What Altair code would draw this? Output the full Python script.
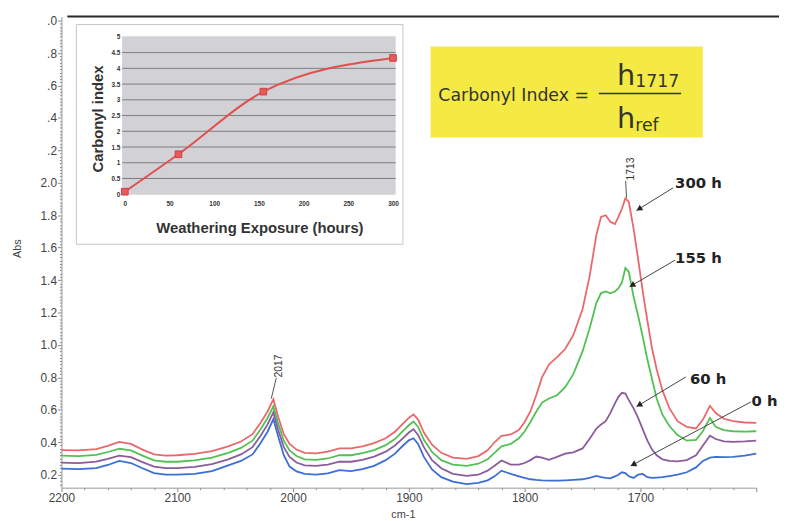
import math
import altair as alt
import pandas as pd

# ---------------- main FTIR spectra ----------------
wavenumber = [2200, 2185, 2170, 2160, 2150, 2140, 2130, 2120, 2110, 2100, 2085, 2070, 2056, 2045, 2035,
              2028, 2022, 2017, 2013, 2008, 2003, 1997, 1990, 1980, 1970, 1960, 1950, 1940, 1930, 1920,
              1912, 1905, 1900, 1896, 1892, 1887, 1880, 1872, 1862, 1850, 1840, 1832, 1826, 1820, 1812,
              1805, 1800, 1795, 1790, 1785, 1779, 1772, 1765, 1758, 1750, 1744, 1738, 1734, 1730, 1726,
              1722, 1719, 1716, 1713, 1710, 1706, 1702, 1698, 1694, 1690, 1686, 1681, 1675, 1668, 1660,
              1652, 1646, 1640, 1635, 1628, 1620, 1610, 1600]

abs_300h = [0.352, 0.350, 0.358, 0.378, 0.402, 0.390, 0.355, 0.325, 0.318, 0.320, 0.328, 0.345, 0.375, 0.405, 0.450,
            0.520, 0.590, 0.665, 0.560, 0.450, 0.390, 0.355, 0.335, 0.332, 0.342, 0.362, 0.362, 0.375, 0.395, 0.425,
            0.465, 0.515, 0.550, 0.572, 0.540, 0.460, 0.385, 0.335, 0.305, 0.298, 0.315, 0.350, 0.400, 0.440, 0.448,
            0.475, 0.525, 0.590, 0.690, 0.800, 0.880, 0.925, 0.975, 1.060, 1.220, 1.420, 1.680, 1.790, 1.800, 1.760,
            1.745, 1.790, 1.840, 1.905, 1.880, 1.720, 1.530, 1.330, 1.150, 0.980, 0.850, 0.720, 0.610, 0.530, 0.495,
            0.485, 0.540, 0.625, 0.580, 0.545, 0.530, 0.522, 0.520]

abs_155h = [0.318, 0.315, 0.322, 0.340, 0.360, 0.350, 0.318, 0.288, 0.280, 0.280, 0.288, 0.305, 0.335, 0.365, 0.410,
            0.480, 0.550, 0.622, 0.520, 0.410, 0.350, 0.315, 0.295, 0.292, 0.300, 0.320, 0.320, 0.333, 0.352, 0.382,
            0.420, 0.470, 0.505, 0.528, 0.495, 0.415, 0.340, 0.290, 0.262, 0.255, 0.268, 0.295, 0.335, 0.375, 0.390,
            0.425, 0.466, 0.525, 0.588, 0.645, 0.670, 0.690, 0.740, 0.820, 0.960, 1.100, 1.260, 1.320, 1.330, 1.318,
            1.330, 1.350, 1.385, 1.475, 1.450, 1.300, 1.180, 1.050, 0.910, 0.790, 0.670, 0.570, 0.500, 0.445, 0.410,
            0.415, 0.470, 0.550, 0.495, 0.475, 0.468, 0.466, 0.468]

abs_60h = [0.275, 0.272, 0.280, 0.298, 0.318, 0.308, 0.278, 0.250, 0.240, 0.240, 0.248, 0.265, 0.295, 0.325, 0.370,
           0.440, 0.510, 0.585, 0.480, 0.370, 0.310, 0.275, 0.258, 0.255, 0.262, 0.280, 0.280, 0.292, 0.312, 0.342,
           0.380, 0.425, 0.460, 0.480, 0.445, 0.370, 0.290, 0.240, 0.205, 0.193, 0.200, 0.225, 0.255, 0.288, 0.262,
           0.262, 0.272, 0.290, 0.312, 0.305, 0.292, 0.310, 0.330, 0.338, 0.362, 0.420, 0.485, 0.510, 0.530, 0.580,
           0.640, 0.680, 0.705, 0.700, 0.660, 0.610, 0.550, 0.480, 0.410, 0.355, 0.320, 0.295, 0.285, 0.282, 0.290,
           0.320, 0.380, 0.440, 0.420, 0.405, 0.402, 0.405, 0.410]

abs_0h = [0.237, 0.235, 0.240, 0.260, 0.285, 0.272, 0.240, 0.210, 0.200, 0.200, 0.205, 0.222, 0.258, 0.285, 0.325,
          0.395, 0.465, 0.543, 0.440, 0.320, 0.250, 0.220, 0.205, 0.200, 0.208, 0.228, 0.222, 0.235, 0.255, 0.290,
          0.330, 0.380, 0.412, 0.425, 0.390, 0.310, 0.232, 0.185, 0.158, 0.142, 0.150, 0.165, 0.190, 0.225, 0.205,
          0.190, 0.180, 0.172, 0.168, 0.165, 0.163, 0.163, 0.165, 0.168, 0.172, 0.180, 0.192, 0.185, 0.180, 0.178,
          0.190, 0.200, 0.215, 0.210, 0.190, 0.180, 0.200, 0.205, 0.185, 0.180, 0.182, 0.185, 0.192, 0.200, 0.215,
          0.245, 0.285, 0.305, 0.310, 0.308, 0.310, 0.318, 0.330]

series_names = ["300 h", "155 h", "60 h", "0 h"]
series_colors = ["#e8686c", "#52c052", "#8a5c9c", "#3b6fd4"]
series_values = [abs_300h, abs_155h, abs_60h, abs_0h]

# ---------------- inset: carbonyl index ----------------
hours = [0, 60, 155, 300]
carbonyl_index = [0.08, 1.27, 3.26, 4.33]
inset_y_ticks = [0, 0.5, 1, 1.5, 2, 2.5, 3, 3.5, 4, 4.5, 5]
inset_x_ticks = [0, 50, 100, 150, 200, 250, 300]
inset_grid_levels = [0.5, 1, 1.5, 2, 2.5, 3, 3.5, 4, 4.5]

# ---------------- annotations ----------------
label_text = ["300 h", "155 h", "60 h", "0 h"]
label_wn = [1670.1, 1670.1, 1657.3, 1604.0]
label_abs = [2.000, 1.535, 0.791, 0.657]

arrow_wn_from = [1671.8, 1670.1, 1660.7, 1604.5]
arrow_abs_from = [1.969, 1.523, 0.803, 0.649]
arrow_wn_to = [1703.4, 1709.4, 1703.4, 1708.5]
arrow_abs_to = [1.829, 1.359, 0.620, 0.254]

peak_text = ["2017", "1713"]
peak_wn = [2012.0, 1707.7]
peak_abs = [0.871, 2.085]
leader_wn_from = [2014.5, 1712.8]
leader_abs_from = [0.797, 2.012]
leader_wn_to = [2018.8, 1712.0]
leader_abs_to = [0.669, 1.908]

formula_text = ["Carbonyl Index =", "h", "1717", "h", "ref"]
formula_wn = [1874.5, 1720.3, 1704.5, 1720.3, 1704.5]
formula_abs = [2.506, 2.603, 2.588, 2.335, 2.317]
formula_size = [17.5, 29, 17.5, 29, 17.5]

# ---------------- frames ----------------
W, H = 702, 476
X_DOMAIN = [1600, 2200]
Y_DOMAIN = [0.12, 3.025]

rows = []
for name, vals in zip(series_names, series_values):
    for w, a in zip(wavenumber, vals):
        rows.append({"wn": w, "abs": a, "series": name})
spectra = pd.DataFrame(rows)

xs = alt.Scale(domain=X_DOMAIN, reverse=True, nice=False, zero=False)
ys = alt.Scale(domain=Y_DOMAIN, nice=False, zero=False)

x_tick_values = list(range(2200, 1599, -20))
y_tick_values = [round(0.14 + 0.02 * i, 2) for i in range(144)]
y_major_test = "abs(datum.value*5 - round(datum.value*5)) < 0.001"
x_major_test = "datum.value % 100 == 0"

x_axis = alt.Axis(
    values=x_tick_values,
    labelExpr=f"({x_major_test}) && datum.value > 1650 ? format(datum.value, 'd') : ''",
    tickSize={"condition": {"test": x_major_test, "value": 4}, "value": 2},
    labelOverlap=False, labelFlush=False, labelBound=False,
    tickColor="#888", domainColor="#999", labelColor="#444", labelFont="Liberation Sans",
    labelFontSize=12, labelPadding=1, grid=False,
    title="cm-1", titleFont="Liberation Sans", titleFontSize=11, titleFontWeight="normal",
    titleColor="#444", titleX=345, titleY=27, titleBaseline="middle", titleAlign="center",
)
y_axis = alt.Axis(
    values=y_tick_values,
    labelExpr=(f"{y_major_test} ? (datum.value > 2.1 ? substring(format(datum.value, '.1f'), 1) "
               ": format(datum.value, '.1f')) : ''"),
    tickSize={"condition": {"test": y_major_test, "value": 4}, "value": 2},
    labelOverlap=False, labelFlush=False, labelBound=False,
    tickColor="#888", domainColor="#999", labelColor="#444", labelFont="Liberation Sans",
    labelFontSize=12, labelPadding=1, grid=False,
    title="Abs", titleFont="Liberation Sans", titleFontSize=11, titleFontWeight="normal",
    titleColor="#444", titleX=-44, titleY=234, titleBaseline="middle", titleAlign="center", titleAngle=270,
)

lines = alt.Chart(spectra).mark_line(strokeWidth=1.8).encode(
    x=alt.X("wn:Q", scale=xs, axis=x_axis),
    y=alt.Y("abs:Q", scale=ys, axis=y_axis),
    color=alt.Color("series:N", scale=alt.Scale(domain=series_names, range=series_colors), legend=None),
    detail="series:N",
)

X = lambda: alt.X("wn:Q", scale=xs, axis=x_axis)
Y = lambda: alt.Y("abs:Q", scale=ys, axis=y_axis)

# top black rule (slide header line)
top_rule = alt.Chart(pd.DataFrame({"wn": [2194.9], "wn2": [1580.3], "abs": [3.025]})).mark_rule(
    color="#2a2a2a", strokeWidth=2).encode(x=X(), x2="wn2:Q", y=Y())

# yellow formula box
ybox = alt.Chart(pd.DataFrame({"wn": [1881.2], "wn2": [1646.2], "abs": [2.841], "abs2": [2.280]})).mark_rect(
    color="#f5e944").encode(x=X(), x2="wn2:Q", y=Y(), y2="abs2:Q")
frac_line = alt.Chart(pd.DataFrame({"wn": [1735.9], "wn2": [1664.9], "abs": [2.550]})).mark_rule(
    color="#333", strokeWidth=1.5).encode(x=X(), x2="wn2:Q", y=Y())
formula = alt.Chart(pd.DataFrame({"wn": formula_wn, "abs": formula_abs, "t": formula_text,
                                  "fs": formula_size})).mark_text(
    align="left", baseline="alphabetic", font="DejaVu Sans", color="#333").encode(
    x=X(), y=Y(), text="t:N", size=alt.Size("fs:Q", scale=None))

# arrows
sx = W / (X_DOMAIN[1] - X_DOMAIN[0])
sy = H / (Y_DOMAIN[1] - Y_DOMAIN[0])
head_wn, head_abs, head_angle = [], [], []
for w1, a1, w2, a2 in zip(arrow_wn_from, arrow_abs_from, arrow_wn_to, arrow_abs_to):
    dx = -(w2 - w1) * sx
    dy = -(a2 - a1) * sy
    L = math.hypot(dx, dy)
    ux, uy = dx / L, dy / L
    head_angle.append(math.degrees(math.atan2(ux, -uy)) % 360)
    head_wn.append(w2 + (ux * 3) / sx)
    head_abs.append(a2 + (uy * 3) / sy)

arrow_df = pd.DataFrame({"wn": arrow_wn_from, "abs": arrow_abs_from, "wn2": arrow_wn_to, "abs2": arrow_abs_to})
arrow_lines = alt.Chart(arrow_df).mark_rule(color="#444", strokeWidth=1).encode(
    x=X(), x2="wn2:Q", y=Y(), y2="abs2:Q")
arrow_heads = alt.Chart(pd.DataFrame({"wn": head_wn, "abs": head_abs, "ang": head_angle})).mark_point(
    shape="triangle-up", filled=True, color="#222", size=45, opacity=1).encode(
    x=X(), y=Y(), angle=alt.Angle("ang:Q", scale=None))
hour_labels = alt.Chart(pd.DataFrame({"wn": label_wn, "abs": label_abs, "t": label_text})).mark_text(
    align="left", baseline="middle", font="DejaVu Sans", fontWeight="bold", fontSize=15, color="#222").encode(
    x=X(), y=Y(), text="t:N")

# peak labels
leaders = alt.Chart(pd.DataFrame({"wn": leader_wn_from, "abs": leader_abs_from, "wn2": leader_wn_to,
                                  "abs2": leader_abs_to})).mark_rule(color="#555", strokeWidth=1).encode(
    x=X(), x2="wn2:Q", y=Y(), y2="abs2:Q")
peak_labels = alt.Chart(pd.DataFrame({"wn": peak_wn, "abs": peak_abs, "t": peak_text})).mark_text(
    align="center", baseline="middle", angle=270, font="Liberation Sans", fontSize=10.5, color="#333").encode(
    x=X(), y=Y(), text="t:N")

main = alt.layer(lines, top_rule, ybox, frac_line, formula, arrow_lines, arrow_heads, hour_labels,
                 leaders, peak_labels)

# ---------------- inset chart (own scales) ----------------
ixs = alt.Scale(domain=[-70.85, 706.27], nice=False, zero=False)
iys = alt.Scale(domain=[-9.324, 5.645], nice=False, zero=False)

ix_axis = alt.Axis(orient="bottom", offset=-296, values=inset_x_ticks, domain=False, ticks=False, tickSize=0,
                   grid=False, labelOverlap=False, labelFlush=False, labelBound=False, zindex=2,
                   labelFont="Liberation Sans", labelFontSize=6.5, labelFontWeight="bold",
                   labelColor="#333", labelPadding=6, labelExpr="datum.value + ''",
                   title="Weathering Exposure (hours)", titleFont="Liberation Sans", titleFontSize=15,
                   titleFontWeight="bold", titleColor="#333", titleX=200, titleY=33,
                   titleBaseline="middle", titleAlign="center")
iy_axis = alt.Axis(orient="left", offset=-64, values=inset_y_ticks, domain=False, ticks=False, tickSize=0,
                   grid=False, labelOverlap=False, labelFlush=False, labelBound=False, zindex=2,
                   labelFont="Liberation Sans", labelFontSize=6.5, labelFontWeight="bold",
                   labelColor="#333", labelPadding=5, labelExpr="datum.value + ''",
                   title="Carbonyl index", titleFont="Liberation Sans", titleFontSize=15,
                   titleFontWeight="bold", titleColor="#333", titleX=-28, titleY=103,
                   titleBaseline="middle", titleAlign="center", titleAngle=270)
IX = lambda: alt.X("h:Q", scale=ixs, axis=ix_axis)
IY = lambda: alt.Y("c:Q", scale=iys, axis=iy_axis)

frame = alt.Chart(pd.DataFrame({"h": [-54.2], "h2": [311.1], "c": [5.39], "c2": [-1.59]})).mark_rect(
    fill="white", stroke="#c4c4c4", strokeWidth=1).encode(x=IX(), x2="h2:Q", y=IY(), y2="c2:Q")
bg = alt.Chart(pd.DataFrame({"h": [-3], "h2": [303], "c": [5.02], "c2": [-0.02]})).mark_rect(
    fill="#d2d2d6").encode(x=IX(), x2="h2:Q", y=IY(), y2="c2:Q")
grid = alt.Chart(pd.DataFrame({"h": [-3] * len(inset_grid_levels), "h2": [303] * len(inset_grid_levels),
                               "c": inset_grid_levels})).mark_rule(color="#7c7c80", strokeWidth=1).encode(
    x=IX(), x2="h2:Q", y=IY())

ci_df = pd.DataFrame({"h": hours, "c": carbonyl_index})
ci_line = alt.Chart(ci_df).mark_line(interpolate="monotone", color="#e0504f", strokeWidth=2).encode(
    x=IX(), y=IY())
ci_pts = alt.Chart(ci_df).mark_point(shape="square", filled=True, color="#e85a5a", size=45, opacity=1,
                                     stroke="#d04040", strokeWidth=1).encode(x=IX(), y=IY())

inset = alt.layer(frame, bg, grid, ci_line, ci_pts)

chart = alt.layer(main, inset).resolve_scale(x="independent", y="independent").resolve_axis(
    x="independent", y="independent").properties(
    width=W, height=H,
    autosize=alt.AutoSizeParams(type="none"),
    padding={"left": 54, "top": 6, "right": 23, "bottom": 31},
    background="white",
).configure_view(stroke=None).configure_axis(grid=False)

chart.save("out.html", embed_options={"renderer": "svg", "actions": False})
